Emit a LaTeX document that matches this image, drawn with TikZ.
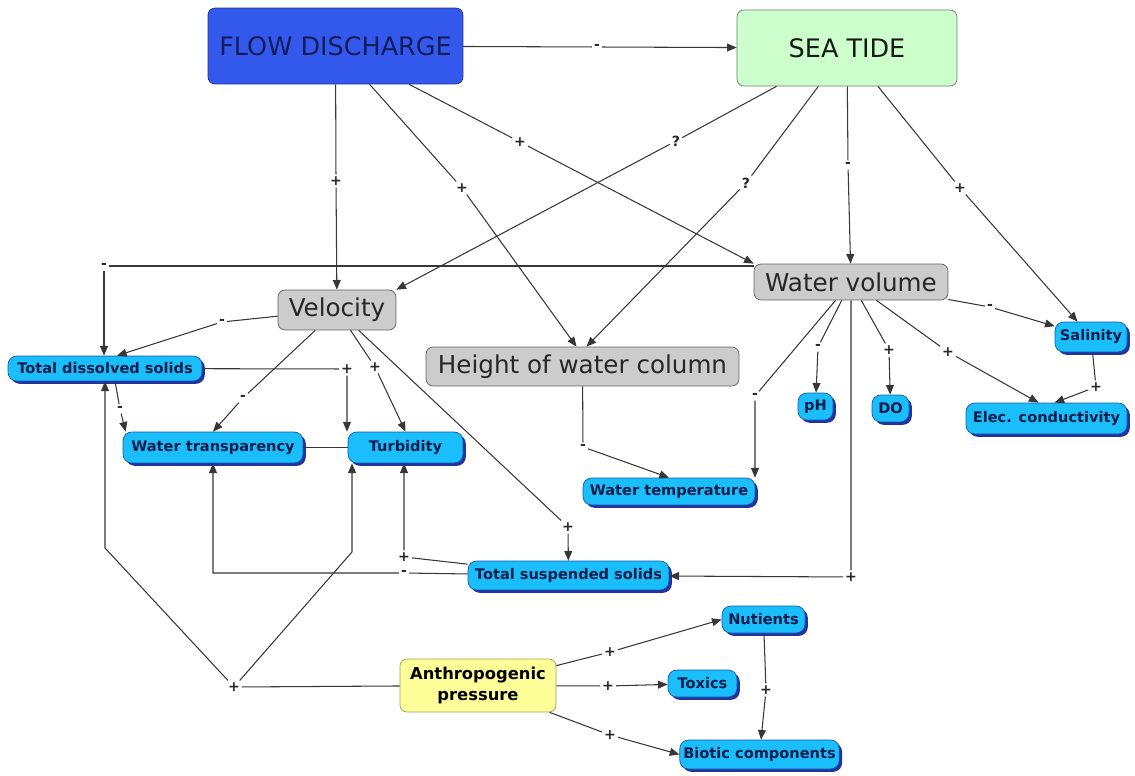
\documentclass[tikz,border=0pt]{standalone}
\usepackage{fontspec}
\setmainfont{DejaVu Sans}
\usetikzlibrary{arrows.meta,shadows,calc}
\definecolor{fdblue}{RGB}{51,88,236}
\definecolor{fdbord}{RGB}{30,45,150}
\definecolor{fdtext}{RGB}{20,28,90}
\definecolor{tidegreen}{RGB}{204,255,204}
\definecolor{tidebord}{RGB}{100,130,100}
\definecolor{grayfill}{RGB}{204,204,204}
\definecolor{graybord}{RGB}{95,95,95}
\definecolor{cyanfill}{RGB}{25,190,250}
\definecolor{cyanbord}{RGB}{20,90,170}
\definecolor{cyanshade}{RGB}{35,50,160}
\definecolor{cyantext}{RGB}{12,28,75}
\definecolor{apyellow}{RGB}{255,255,153}
\definecolor{apbord}{RGB}{160,160,80}
\definecolor{linegray}{RGB}{55,55,55}
\begin{document}
\begin{tikzpicture}[x=0.02cm, y=-0.02cm,
    driver/.style={draw, rounded corners=4pt, font=\fontsize{14.5}{16}\selectfont, inner sep=2pt},
    cond/.style={draw=graybord, fill=grayfill, rounded corners=4pt, text=black!85, font=\fontsize{14}{16}\selectfont, inner sep=2pt},
    var/.style={draw=cyanbord, fill=cyanfill, rounded corners=5pt, text=cyantext, font=\bfseries\fontsize{8.3}{10}\selectfont, inner sep=2pt,
        drop shadow={shadow xshift=1.6pt, shadow yshift=-1.6pt, fill=cyanshade, opacity=1}},
    sign/.style={font=\bfseries\fontsize{8}{9}\selectfont, inner sep=1pt, text=black!85},
    link/.style={draw=linegray, line width=0.6pt},
    arr/.style={link, -{Triangle[length=5.5pt,width=4.5pt]}}]
    \useasboundingbox (0,0) rectangle (1135,776);

    % drivers
    \node (fd) [driver, fill=fdblue, draw=fdbord, text=fdtext, minimum width=5.1cm, minimum height=1.52cm] at (335.5,46) {FLOW DISCHARGE};
    \node (st) [driver, fill=tidegreen, draw=tidebord, text=black!90, minimum width=4.4cm, minimum height=1.52cm] at (847,48) {SEA TIDE};

    % hydrological conditions
    \node (vel) [cond, minimum width=2.36cm, minimum height=0.8cm] at (337,310) {Velocity};
    \node (wv) [cond, minimum width=3.88cm, minimum height=0.72cm] at (851,282) {Water volume};
    \node (hwc) [cond, minimum width=6.26cm, minimum height=0.78cm] at (582.5,366.5) {Height of water column};

    % water quality variables
    \node (tds) [var, minimum width=3.88cm, minimum height=0.5cm] at (105,368.5) {Total dissolved solids};
    \node (wtr) [var, minimum width=3.6cm, minimum height=0.62cm] at (213,447.5) {Water transparency};
    \node (turb) [var, minimum width=2.3cm, minimum height=0.62cm] at (405.5,447.5) {Turbidity};
    \node (wtemp) [var, minimum width=3.44cm, minimum height=0.54cm] at (669,491.5) {Water temperature};
    \node (ph) [var, minimum width=0.7cm, minimum height=0.54cm] at (815.5,406.5) {pH};
    \node (do) [var, minimum width=0.74cm, minimum height=0.54cm] at (890.5,408.5) {DO};
    \node (sal) [var, minimum width=1.44cm, minimum height=0.6cm] at (1091,337) {Salinity};
    \node (ec) [var, minimum width=3.22cm, minimum height=0.62cm] at (1046.5,418.5) {Elec. conductivity};
    \node (tss) [var, minimum width=4.02cm, minimum height=0.58cm] at (568.5,575.5) {Total suspended solids};
    \node (nut) [var, minimum width=1.66cm, minimum height=0.54cm] at (763.5,619.5) {Nutients};
    \node (tox) [var, minimum width=1.38cm, minimum height=0.54cm] at (702.5,683.5) {Toxics};
    \node (bio) [var, minimum width=3.1cm, minimum height=0.58cm] at (759.5,754.5) {Biotic components};

    % pressure
    \node (ap) [draw=apbord, fill=apyellow, rounded corners=4pt, align=center, font=\bfseries\fontsize{9.3}{12}\selectfont, minimum width=3.12cm, minimum height=1.06cm] at (478,685.5) {Anthropogenic\\pressure};

    % signs on the links
    \node (s1) [sign] at (597,47) {-};
    \node (s2) [sign] at (336,181) {+};
    \node (s3) [sign] at (462,188) {+};
    \node (s4) [sign] at (520,142) {+};
    \node (s5) [sign] at (676,141) {?};
    \node (s6) [sign] at (746,183) {?};
    \node (s7) [sign] at (848,165) {-};
    \node (s8) [sign] at (960,188) {+};
    \node (s9) [sign] at (104,266) {-};
    \node (s10) [sign] at (222,322) {-};
    \node (s11) [sign] at (120,409) {-};
    \node (s12) [sign] at (243,398) {-};
    \node (s13) [sign] at (347,369) {+};
    \node (s14) [sign] at (375,367) {+};
    \node (s15) [sign] at (568,527) {+};
    \node (s17) [sign] at (583,447) {-};
    \node (s18) [sign] at (755,396) {-};
    \node (s19) [sign] at (818,347) {-};
    \node (s20) [sign] at (889,350) {+};
    \node (s21) [sign] at (948,352) {+};
    \node (s22) [sign] at (990,307) {-};
    \node (s23) [sign] at (1096,387) {+};
    \node (s24) [sign] at (851,577) {+};
    \node (s25) [sign] at (404,557) {+};
    \node (s26) [sign] at (404,573) {-};
    \node (s27) [sign] at (234,687) {+};
    \node (s28) [sign] at (610,652) {+};
    \node (s29) [sign] at (608,686) {+};
    \node (s30) [sign] at (610,735) {+};
    \node (s31) [sign] at (766,690) {+};
    \coordinate (k1) at (105,548);
    \coordinate (k2) at (352,552);

    % links
    \draw[arr] (fd) -- (s1) -- (st);
    \draw[arr] (fd) -- (s2) -- (vel);
    \draw[arr] (fd) -- (s3) -- ($(hwc.north)+(-6,0)$);
    \draw[arr] (fd) -- (s4) -- (wv.north west);
    \draw[arr] (st) -- (s5) -- (vel.north east);
    \draw[arr] (st) -- (s6) -- ($(hwc.north)+(4,0)$);
    \draw[arr] (st) -- (s7) -- (wv);
    \draw[arr] (st) -- (s8) -- (sal);
    \draw[arr] (s9 -| wv.west) -- (s9) -- (s9 |- tds.north);
    \draw[arr] (vel) -- (s10) -- ($(tds.north)+(12,0)$);
    \draw[arr] ($(tds.south)+(10,0)$) -- (s11) -- ($(wtr.north west)+(3,0)$);
    \draw[arr] (vel) -- (s12) -- (wtr.north);
    \draw[arr] (tds) -- (s13) -- (s13 |- turb.north);
    \draw[arr] (vel) -- (s14) -- (turb.north);
    \draw[arr] (vel) -- (s15) -- (tss);
    \draw[link] (wtr) -- (turb);
    \draw[arr] (hwc) -- (s17) -- (wtemp.north);
    \draw[arr] (wv) -- (s18) -- (s18 |- wtemp.north);
    \draw[arr] (wv) -- (s19) -- (ph);
    \draw[arr] (wv) -- (s20) -- (do);
    \draw[arr] (wv) -- (s21) -- ($(ec.north)+(-8,0)$);
    \draw[arr] (wv) -- (s22) -- (sal);
    \draw[arr] (sal) -- (s23) -- ($(ec.north)+(8,0)$);
    \draw[arr] (wv) -- (s24) -- (tss);
    \draw[arr] (tss) -- (s25) -- (s25 |- turb.south);
    \draw[arr] (tss) -- (s26) -- (wtr.south |- s26) -- (wtr.south);
    \draw[arr] (ap) -- (s27) -- (k1) -- (k1 |- tds.south);
    \draw[arr] (s27) -- (k2) -- (k2 |- turb.south);
    \draw[arr] (ap) -- (s28) -- (nut.west);
    \draw[arr] (ap) -- (s29) -- (tox);
    \draw[arr] (ap) -- (s30) -- (bio.west);
    \draw[arr] (nut) -- (s31) -- (bio);
\end{tikzpicture}
\end{document}
